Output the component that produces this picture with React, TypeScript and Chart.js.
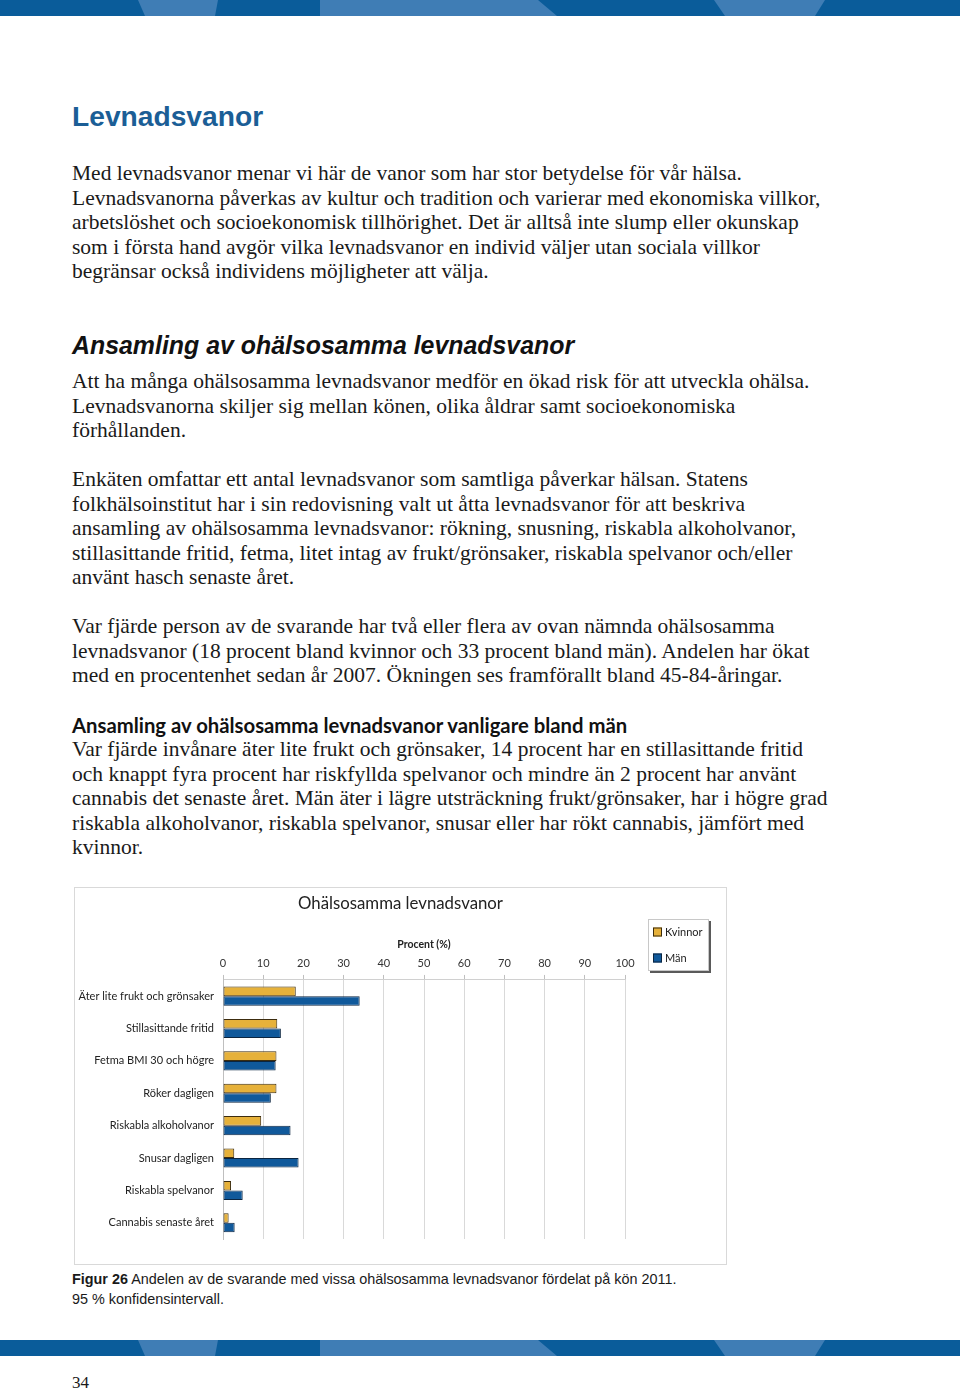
import React, { useEffect, useRef } from "react";
import { Chart, registerables } from "chart.js";

Chart.register(...registerables);

const categories = [
  "Äter lite frukt och grönsaker",
  "Stillasittande fritid",
  "Fetma BMI 30 och högre",
  "Röker dagligen",
  "Riskabla alkoholvanor",
  "Snusar dagligen",
  "Riskabla spelvanor",
  "Cannabis senaste året",
];
const kvinnor = [18.1, 13.5, 13.3, 13.3, 9.5, 2.8, 2.0, 1.4];
const man = [34.0, 14.4, 13.1, 11.9, 16.8, 18.8, 4.9, 2.9];
const seriesLabels = ["Kvinnor", "Män"];
const seriesColors = ["#E6B13A", "#10599B"];
const seriesBorders = ["#3C2C0E", "#0B2540"];
const chartTitle = "Ohälsosamma levnadsvanor";
const axisTitle = "Procent (%)";

const BODY_FONT = "'Liberation Serif', 'Times New Roman', serif";
const CHART_FONT = "Lato, 'Open Sans', sans-serif";

const legendPlugin = {
  id: "boxLegend",
  afterDraw(chart: any) {
    const ctx = chart.ctx;
    const x = 574, y = 32, w = 61, h = 52;
    ctx.save();
    ctx.fillStyle = "#5a5a5a";
    ctx.fillRect(x + 2, y + 2, w, h);
    ctx.fillStyle = "#ffffff";
    ctx.fillRect(x, y, w, h);
    ctx.strokeStyle = "#c8c8c8";
    ctx.lineWidth = 1;
    ctx.strokeRect(x + 0.5, y + 0.5, w - 1, h - 1);
    const ys = [45, 71];
    chart.data.datasets.forEach((ds: any, i: number) => {
      ctx.fillStyle = ds.backgroundColor;
      ctx.fillRect(x + 5, ys[i] - 4.5, 9, 9);
      ctx.strokeStyle = ds.borderColor;
      ctx.strokeRect(x + 5.5, ys[i] - 4, 8, 8);
      ctx.fillStyle = "#222";
      ctx.font = "11px " + CHART_FONT;
      ctx.textBaseline = "middle";
      ctx.textAlign = "left";
      ctx.fillText(ds.label, x + 17, ys[i]);
    });
    ctx.restore();
  },
};

function BarChart() {
  const ref = useRef<HTMLCanvasElement>(null);
  useEffect(() => {
    if (!ref.current) return;
    const chart = new Chart(ref.current, {
      type: "bar",
      data: {
        labels: categories,
        datasets: [
          {
            label: seriesLabels[0],
            data: kvinnor,
            backgroundColor: seriesColors[0],
            borderColor: seriesBorders[0],
            borderWidth: 1,
            borderSkipped: false,
            yAxisID: "y",
          },
          {
            label: seriesLabels[1],
            data: man,
            backgroundColor: seriesColors[1],
            borderColor: seriesBorders[1],
            borderWidth: 1,
            borderSkipped: false,
            yAxisID: "y",
          },
        ],
      },
      options: {
        indexAxis: "y",
        responsive: false,
        animation: false,
        events: [],
        layout: { padding: { left: 0, right: 0, top: 0, bottom: 26 } },
        datasets: { bar: { categoryPercentage: 0.59, barPercentage: 1 } },
        plugins: {
          legend: { display: false },
          tooltip: { enabled: false },
          title: {
            display: true,
            text: chartTitle,
            color: "#222",
            font: { family: CHART_FONT, size: 16.8, weight: "normal", lineHeight: 1.2 },
            padding: { top: 7, bottom: 2.8 },
          },
        },
        scales: {
          x: {
            position: "top",
            min: 0,
            max: 100,
            ticks: {
              stepSize: 10,
              padding: 5,
              color: "#333",
              font: { family: CHART_FONT, size: 11 },
            },
            grid: { color: "#D9D9D9", tickLength: 5, tickColor: "#BFBFBF" },
            border: { display: true, color: "#D0D0D0" },
            title: {
              display: true,
              text: axisTitle,
              color: "#222",
              font: { family: CHART_FONT, size: 10.5, weight: "bold", lineHeight: 1.2 },
              padding: { top: 21, bottom: 0 },
            },
            afterFit(scale: any) {
              scale.height = 63;
            },
          },
          y: {
            ticks: {
              padding: 9,
              color: "#222",
              font: { family: CHART_FONT, size: 11 },
            },
            grid: { display: false, drawTicks: false, tickLength: 0 },
            border: { display: true, color: "#BFBFBF" },
            afterFit(scale: any) {
              scale.width = 149;
            },
          },
          yRight: {
            type: "linear",
            axis: "y",
            position: "right",
            display: true,
            ticks: { display: false },
            grid: { display: false, drawTicks: false },
            border: { display: false },
            afterFit(scale: any) {
              scale.width = 102;
            },
          },
        },
      },
      plugins: [legendPlugin],
    } as any);
    return () => chart.destroy();
  }, []);
  return (
    <canvas
      ref={ref}
      width={653}
      height={378}
      style={{ position: "absolute", left: 74, top: 887, width: 653, height: 378 }}
    />
  );
}

function Banner({ top }: { top: number }) {
  return (
    <svg
      width={960}
      height={16}
      style={{ position: "absolute", left: 0, top }}
      viewBox="0 0 960 16"
    >
      <rect x={0} y={0} width={960} height={16} fill="#0A5C9A" />
      <polygon points="138,0 218,0 215,16 145,16" fill="#3F7DB5" />
      <polygon points="320,0 538,0 557,16 320,16" fill="#3F7DB5" />
      <polygon points="714,0 825,0 815,16 725,16" fill="#3F7DB5" />
    </svg>
  );
}

const p1 = [
  "Med levnadsvanor menar vi här de vanor som har stor betydelse för vår hälsa.",
  "Levnadsvanorna påverkas av kultur och tradition och varierar med ekonomiska villkor,",
  "arbetslöshet och socioekonomisk tillhörighet. Det är alltså inte slump eller okunskap",
  "som i första hand avgör vilka levnadsvanor en individ väljer utan sociala villkor",
  "begränsar också individens möjligheter att välja.",
];
const p2 = [
  "Att ha många ohälsosamma levnadsvanor medför en ökad risk för att utveckla ohälsa.",
  "Levnadsvanorna skiljer sig mellan könen, olika åldrar samt socioekonomiska",
  "förhållanden.",
];
const p3 = [
  "Enkäten omfattar ett antal levnadsvanor som samtliga påverkar hälsan. Statens",
  "folkhälsoinstitut har i sin redovisning valt ut åtta levnadsvanor för att beskriva",
  "ansamling av ohälsosamma levnadsvanor: rökning, snusning, riskabla alkoholvanor,",
  "stillasittande fritid, fetma, litet intag av frukt/grönsaker, riskabla spelvanor och/eller",
  "använt hasch senaste året.",
];
const p4 = [
  "Var fjärde person av de svarande har två eller flera av ovan nämnda ohälsosamma",
  "levnadsvanor (18 procent bland kvinnor och 33 procent bland män). Andelen har ökat",
  "med en procentenhet sedan år 2007. Ökningen ses framförallt bland 45-84-åringar.",
];
const p5 = [
  "Var fjärde invånare äter lite frukt och grönsaker, 14 procent har en stillasittande fritid",
  "och knappt fyra procent har riskfyllda spelvanor och mindre än 2 procent har använt",
  "cannabis det senaste året. Män äter i lägre utsträckning frukt/grönsaker, har i högre grad",
  "riskabla alkoholvanor, riskabla spelvanor, snusar eller har rökt cannabis, jämfört med",
  "kvinnor.",
];

function Para({ lines, top }: { lines: string[]; top: number }) {
  return (
    <div
      style={{
        position: "absolute",
        left: 72,
        top,
        fontFamily: BODY_FONT,
        fontSize: 21.5,
        lineHeight: "24.5px",
        color: "#1a1a1a",
        whiteSpace: "nowrap",
      }}
    >
      {lines.map((l, i) => (
        <div key={i}>{l}</div>
      ))}
    </div>
  );
}

export default function App() {
  return (
    <div
      style={{
        position: "absolute",
        left: 0,
        top: 0,
        width: 960,
        height: 1392,
        background: "#fff",
        overflow: "hidden",
      }}
    >
      <Banner top={0} />
      <div
        style={{
          position: "absolute",
          left: 72,
          top: 99,
          fontFamily: "'Liberation Sans', Arial, sans-serif",
          fontWeight: "bold",
          fontSize: 28.2,
          lineHeight: "34px",
          color: "#1B5E96",
        }}
      >
        Levnadsvanor
      </div>
      <Para lines={p1} top={161} />
      <div
        style={{
          position: "absolute",
          left: 72,
          top: 330,
          fontFamily: "'Liberation Sans', Arial, sans-serif",
          fontWeight: "bold",
          fontStyle: "italic",
          fontSize: 24.9,
          lineHeight: "30px",
          color: "#111",
          whiteSpace: "nowrap",
        }}
      >
        Ansamling av ohälsosamma levnadsvanor
      </div>
      <Para lines={p2} top={369} />
      <Para lines={p3} top={467} />
      <Para lines={p4} top={614} />
      <div
        style={{
          position: "absolute",
          left: 72,
          top: 712,
          fontFamily: "Lato, 'Open Sans', sans-serif",
          fontWeight: "bold",
          fontSize: 20.3,
          lineHeight: "26px",
          color: "#111",
          whiteSpace: "nowrap",
        }}
      >
        Ansamling av ohälsosamma levnadsvanor vanligare bland män
      </div>
      <Para lines={p5} top={737} />
      <div
        style={{
          position: "absolute",
          left: 74,
          top: 887,
          width: 651,
          height: 376,
          border: "1px solid #D9D9D9",
        }}
      />
      <BarChart />
      <div
        style={{
          position: "absolute",
          left: 72,
          top: 1269,
          fontFamily: "'Liberation Sans', Arial, sans-serif",
          fontSize: 14.4,
          lineHeight: "20px",
          color: "#1a1a1a",
          whiteSpace: "nowrap",
        }}
      >
        <div>
          <b>Figur 26</b> Andelen av de svarande med vissa ohälsosamma levnadsvanor fördelat på kön 2011.
        </div>
        <div>95 % konfidensintervall.</div>
      </div>
      <Banner top={1340} />
      <div
        style={{
          position: "absolute",
          left: 72,
          top: 1373,
          fontFamily: BODY_FONT,
          fontSize: 17,
          lineHeight: "20px",
          color: "#1a1a1a",
        }}
      >
        34
      </div>
    </div>
  );
}
